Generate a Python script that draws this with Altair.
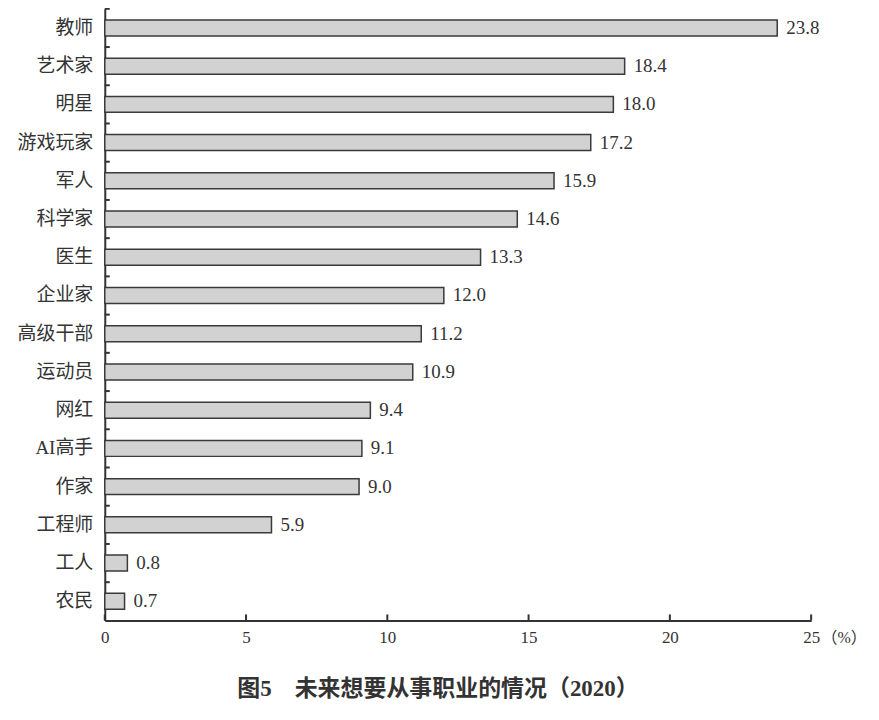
import altair as alt
import pandas as pd

jobs = ["教师", "艺术家", "明星", "游戏玩家", "军人", "科学家", "医生", "企业家",
        "高级干部", "运动员", "网红", "AI高手", "作家", "工程师", "工人", "农民"]
values = [23.8, 18.4, 18.0, 17.2, 15.9, 14.6, 13.3, 12.0, 11.2, 10.9, 9.4, 9.1, 9.0, 5.9, 0.8, 0.7]
x_ticks = [0, 5, 10, 15, 20, 25]
title_text = "图5\u3000未来想要从事职业的情况（2020）"

df = pd.DataFrame({"job": jobs, "value": values,
                   "label": [f"{v:.1f}" for v in values]})
ticks_df = pd.DataFrame({"t": x_ticks})

FONT = "Liberation Serif, Noto Sans CJK SC"
W, H = 708, 613

y = alt.Y("job:N", sort=jobs,
          scale=alt.Scale(paddingInner=0, paddingOuter=0),
          axis=alt.Axis(title=None, labelFont=FONT, labelFontSize=19, labelColor="#333",
                        labelPadding=12, domainColor="#333", domainWidth=2, ticks=False))
x = alt.X("value:Q",
          scale=alt.Scale(domain=[0, 25], nice=False),
          axis=alt.Axis(values=x_ticks, title="（%）", titleFont=FONT, titleFontSize=16,
                        titleFontWeight="normal", titleColor="#333",
                        titleX=718, titleY=17, titleAlign="left", titleBaseline="middle",
                        titleAngle=0, titleAnchor="start",
                        labelFont=FONT, labelFontSize=17, labelColor="#333", labelPadding=9,
                        domainColor="#333", domainWidth=2, ticks=False,
                        grid=False, labelFlush=False))

bars = alt.Chart(df).mark_bar(fill="#d2d2d2", stroke="#3a3a3a", strokeWidth=1.5,
                              height=16).encode(x=x, y=y)
text = alt.Chart(df).mark_text(align="left", dx=9, font=FONT, fontSize=19,
                               color="#333").encode(
    x="value:Q", y=alt.Y("job:N", sort=jobs), text="label:N")
ytick = alt.Chart(df).mark_rule(color="#333", strokeWidth=2).encode(
    y=alt.Y("job:N", sort=jobs, bandPosition=0),
    x=alt.value(0), x2=alt.value(5))
xtick = alt.Chart(ticks_df).mark_rule(color="#333", strokeWidth=2).encode(
    x=alt.X("t:Q"), y=alt.value(H), y2=alt.value(H - 6))

chart = (bars + text + ytick + xtick).properties(
    width=W, height=H,
    title=alt.TitleParams(title_text, orient="bottom", anchor="middle", font=FONT,
                          fontSize=23, fontWeight="bold", color="#333", offset=33, dx=-20)
).configure_view(stroke=None).properties(
    padding={"left": 97, "top": 0, "right": 60, "bottom": 95},
    autosize=alt.AutoSizeParams(type="none")
)

chart.save("out.html", embed_options={"renderer": "svg", "actions": False})
